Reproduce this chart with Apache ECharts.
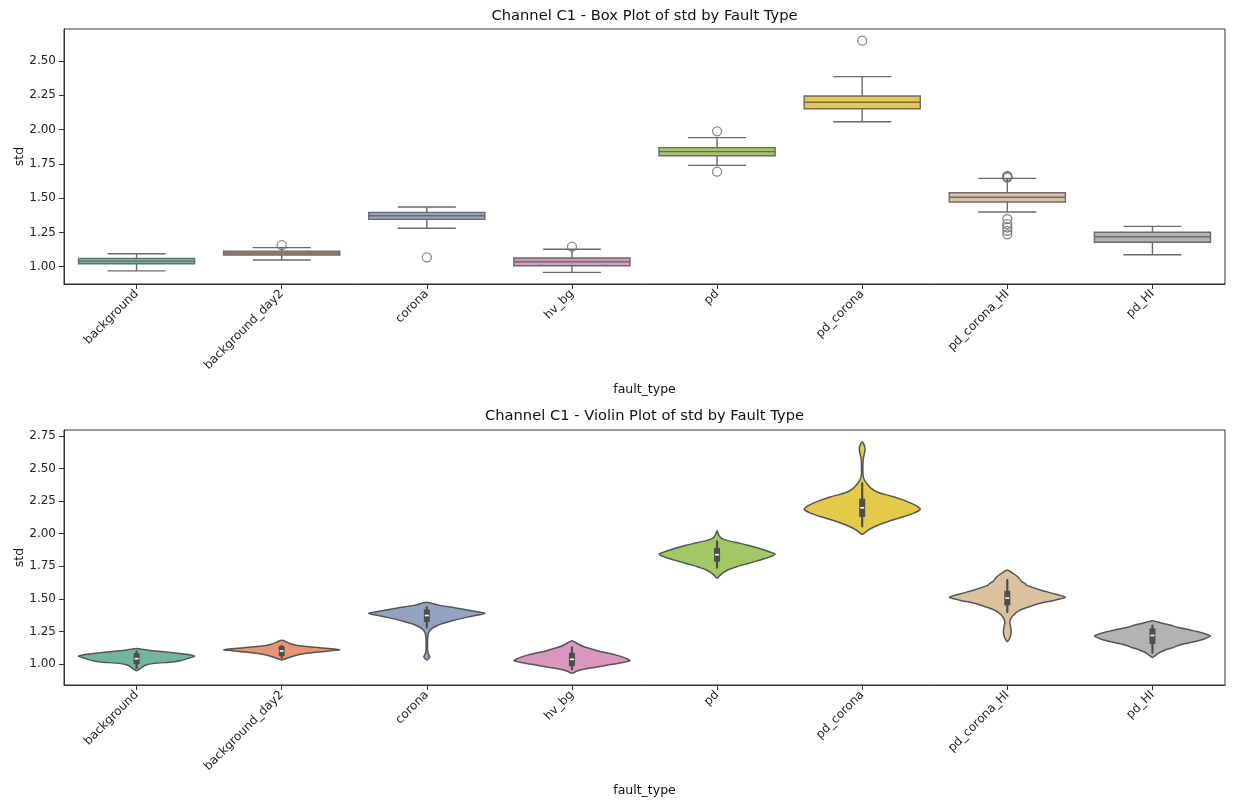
<!DOCTYPE html>
<html><head><meta charset="utf-8">
<script src="https://cdn.jsdelivr.net/npm/echarts@6/dist/echarts.min.js"></script>
<style>html,body{margin:0;padding:0;background:#fff}#c{width:1235px;height:803px}</style>
</head><body><div id="c"></div>
<script>
// ---------------- data ----------------
const categories = ['background','background_day2','corona','hv_bg','pd','pd_corona','pd_corona_HI','pd_HI'];
const whiskerLow  = [0.970, 1.049, 1.280, 0.959, 1.739, 2.057, 1.399, 1.087];
const quart1      = [1.022, 1.085, 1.345, 1.007, 1.809, 2.152, 1.472, 1.178];
const medians     = [1.041, 1.100, 1.372, 1.036, 1.839, 2.199, 1.506, 1.219];
const quart3      = [1.061, 1.114, 1.396, 1.063, 1.868, 2.245, 1.539, 1.251];
const whiskerHigh = [1.095, 1.139, 1.435, 1.127, 1.941, 2.386, 1.644, 1.294];
// outliers: [category index, value]
const outliers = [[1,1.158],[2,1.068],[3,1.146],[4,1.987],[4,1.693],[5,2.648],
  [6,1.650],[6,1.656],[6,1.662],[6,1.348],[6,1.311],[6,1.287],[6,1.262],[6,1.236]];
// violin density profiles: [value, relative half-width]
const violinBackground = [[0.949,0],[0.97,0.08],[0.99,0.15],[1.005,0.3],[1.015,0.62],[1.025,0.75],[1.045,0.9],[1.061,1],[1.075,0.85],[1.09,0.55],[1.105,0.2],[1.12,0]];
const violinBackgroundDay2 = [[1.031,0],[1.045,0.1],[1.064,0.22],[1.08,0.4],[1.095,0.7],[1.11,1],[1.125,0.65],[1.14,0.3],[1.155,0.15],[1.17,0.08],[1.182,0]];
const violinCorona = [[1.031,0],[1.045,0.04],[1.06,0.05],[1.075,0.03],[1.10,0.015],[1.15,0.012],[1.20,0.015],[1.24,0.03],[1.27,0.08],[1.30,0.2],[1.33,0.42],[1.36,0.7],[1.389,1],[1.41,0.75],[1.43,0.5],[1.45,0.22],[1.474,0]];
const violinHvBg = [[0.929,0],[0.945,0.08],[0.96,0.2],[0.975,0.4],[0.992,0.62],[1.01,0.85],[1.025,1],[1.045,0.92],[1.07,0.75],[1.09,0.55],[1.11,0.38],[1.13,0.22],[1.15,0.12],[1.179,0]];
const violinPd = [[1.658,0],[1.68,0.05],[1.70,0.1],[1.725,0.2],[1.747,0.34],[1.77,0.52],[1.798,0.74],[1.82,0.9],[1.844,1],[1.865,0.88],[1.888,0.72],[1.91,0.55],[1.926,0.4],[1.945,0.2],[1.965,0.08],[1.99,0.03],[2.023,0]];
const violinPdCorona = [[1.995,0],[2.028,0.1],[2.055,0.22],[2.08,0.36],[2.105,0.52],[2.13,0.71],[2.16,0.9],[2.187,1],[2.21,0.95],[2.233,0.85],[2.26,0.7],[2.284,0.54],[2.30,0.4],[2.322,0.25],[2.35,0.15],[2.38,0.09],[2.41,0.04],[2.45,0.015],[2.52,0.012],[2.58,0.02],[2.62,0.04],[2.65,0.05],[2.68,0.035],[2.706,0]];
const violinPdCoronaHI = [[1.171,0],[1.19,0.03],[1.215,0.055],[1.24,0.065],[1.265,0.065],[1.29,0.055],[1.315,0.045],[1.34,0.05],[1.363,0.08],[1.39,0.14],[1.414,0.22],[1.44,0.38],[1.466,0.57],[1.49,0.82],[1.512,1],[1.54,0.8],[1.568,0.57],[1.59,0.42],[1.606,0.33],[1.62,0.3],[1.632,0.25],[1.67,0.18],[1.696,0.1],[1.721,0]];
const violinPdHI = [[1.051,0],[1.065,0.05],[1.082,0.1],[1.10,0.18],[1.113,0.25],[1.125,0.35],[1.138,0.42],[1.155,0.55],[1.171,0.72],[1.19,0.88],[1.215,1],[1.24,0.85],[1.261,0.65],[1.28,0.45],[1.299,0.3],[1.315,0.15],[1.332,0]];
const violinProfiles = [violinBackground, violinBackgroundDay2, violinCorona, violinHvBg, violinPd, violinPdCorona, violinPdCoronaHI, violinPdHI];
const ticksTop = [1.00, 1.25, 1.50, 1.75, 2.00, 2.25, 2.50];
const ticksBottom = [1.00, 1.25, 1.50, 1.75, 2.00, 2.25, 2.50, 2.75];
const titleTop = 'Channel C1 - Box Plot of std by Fault Type';
const titleBottom = 'Channel C1 - Violin Plot of std by Fault Type';
const xName = 'fault_type', yName = 'std';

// ---------------- style ----------------
const set2 = ['#66c2a5','#fc8d62','#8da0cb','#e78ac3','#a6d854','#ffd92f','#e5c494','#b3b3b3'];
function rgb2hls(r,g,b){const mx=Math.max(r,g,b),mn=Math.min(r,g,b);const l=(mx+mn)/2;if(mx===mn)return[0,l,0];const d=mx-mn;const s=l<=0.5?d/(mx+mn):d/(2-mx-mn);let h;if(mx===r)h=((g-b)/d)%6;else if(mx===g)h=(b-r)/d+2;else h=(r-g)/d+4;h/=6;if(h<0)h+=1;return[h,l,s];}
function hls2rgb(h,l,s){if(s===0)return[l,l,l];const q=l<0.5?l*(1+s):l+s-l*s;const p=2*l-q;const f=t=>{if(t<0)t+=1;if(t>1)t-=1;if(t<1/6)return p+(q-p)*6*t;if(t<1/2)return q;if(t<2/3)return p+(q-p)*(2/3-t)*6;return p;};return[f(h+1/3),f(h),f(h-1/3)];}
function desat(hex,p){const r=parseInt(hex.slice(1,3),16)/255,g=parseInt(hex.slice(3,5),16)/255,b=parseInt(hex.slice(5,7),16)/255;const [h,l,s]=rgb2hls(r,g,b);const c=hls2rgb(h,l,s*p);return 'rgb('+c.map(v=>Math.round(v*255)).join(',')+')';}
const colors = set2.map(c=>desat(c,0.75));
const boxLine = '#6a6a6a';
const violinLine = '#555555';
const innerColor = '#4d4d4d';
const FONT = 'DejaVu Sans';

const grids = [
  {left:64, right:10, top:29, height:255, show:true, borderColor:'#333', borderWidth:1, containLabel:false, outerBoundsMode:'none'},
  {left:64, right:10, top:430, height:255, show:true, borderColor:'#333', borderWidth:1, containLabel:false, outerBoundsMode:'none'}
];
function xAxisFor(gi){
  return {type:'category', gridIndex:gi, data:categories, boundaryGap:true,
    name:xName, nameLocation:'middle', nameGap:99,
    nameTextStyle:{fontFamily:FONT, fontSize:12.5, color:'#111'},
    axisLine:{show:true, lineStyle:{color:'#333', width:1}},
    axisTick:{show:true, alignWithLabel:true, length:5, lineStyle:{color:'#333'}},
    axisLabel:{rotate:45, fontFamily:FONT, fontSize:12, color:'#222', margin:8, interval:0},
    splitLine:{show:false}};
}
function yAxisFor(gi,min,max,ticks){
  return {type:'value', gridIndex:gi, min:min, max:max,
    name:yName, nameLocation:'middle', nameGap:44, nameRotate:90, nameMoveOverlap:false,
    nameTextStyle:{fontFamily:FONT, fontSize:12.5, color:'#111', verticalAlign:'middle'},
    axisLine:{show:true, lineStyle:{color:'#333', width:1}},
    axisTick:{show:true, length:5, lineStyle:{color:'#333'}, customValues:ticks},
    axisLabel:{fontFamily:FONT, fontSize:12, color:'#222', margin:8, customValues:ticks, formatter:v=>v.toFixed(2)},
    splitLine:{show:false}};
}

function renderBox(params, api){
  const i = api.value(0);
  const pLo=api.coord([i,api.value(1)]), pQ1=api.coord([i,api.value(2)]), pMd=api.coord([i,api.value(3)]),
        pQ3=api.coord([i,api.value(4)]), pHi=api.coord([i,api.value(5)]);
  const band = api.size([1,0])[0];
  const hw = band*0.4, cw = hw*0.5, x = pLo[0];
  const st = {stroke:boxLine, lineWidth:1.4, fill:null};
  return {type:'group', children:[
    {type:'line', shape:{x1:x,y1:pQ1[1],x2:x,y2:pLo[1]}, style:st},
    {type:'line', shape:{x1:x,y1:pQ3[1],x2:x,y2:pHi[1]}, style:st},
    {type:'line', shape:{x1:x-cw,y1:pLo[1],x2:x+cw,y2:pLo[1]}, style:st},
    {type:'line', shape:{x1:x-cw,y1:pHi[1],x2:x+cw,y2:pHi[1]}, style:st},
    {type:'rect', shape:{x:x-hw, y:pQ3[1], width:2*hw, height:pQ1[1]-pQ3[1]}, style:{fill:colors[params.dataIndex], stroke:boxLine, lineWidth:1.4}},
    {type:'line', shape:{x1:x-hw,y1:pMd[1],x2:x+hw,y2:pMd[1]}, style:st}
  ]};
}
function renderViolin(params, api){
  const idx = params.dataIndex;
  const i = api.value(0);
  const prof = violinProfiles[idx];
  const band = api.size([1,0])[0];
  const hw = band*0.4;
  const pts = [];
  for (let k=0;k<prof.length;k++){const p=api.coord([i,prof[k][0]]); pts.push([p[0]+prof[k][1]*hw, p[1]]);}
  for (let k=prof.length-2;k>=1;k--){const p=api.coord([i,prof[k][0]]); pts.push([p[0]-prof[k][1]*hw, p[1]]);}
  const pLo=api.coord([i,whiskerLow[idx]]), pQ1=api.coord([i,quart1[idx]]), pMd=api.coord([i,medians[idx]]),
        pQ3=api.coord([i,quart3[idx]]), pHi=api.coord([i,whiskerHigh[idx]]);
  const x = pLo[0];
  return {type:'group', children:[
    {type:'polygon', shape:{points:pts, smooth:0.2}, style:{fill:colors[idx], stroke:violinLine, lineWidth:1.5}},
    {type:'line', shape:{x1:x,y1:pLo[1],x2:x,y2:pHi[1]}, style:{stroke:innerColor, lineWidth:2.2, lineCap:'round'}},
    {type:'line', shape:{x1:x,y1:pQ3[1],x2:x,y2:pQ1[1]}, style:{stroke:innerColor, lineWidth:6, lineCap:'square'}},
    {type:'rect', shape:{x:x-2, y:pMd[1]-0.8, width:4, height:1.6}, style:{fill:'#ffffff'}}
  ]};
}

const boxData = categories.map((c,i)=>[i, whiskerLow[i], quart1[i], medians[i], quart3[i], whiskerHigh[i]]);
const violinData = categories.map((c,i)=>[i, medians[i]]);

const option = {
  backgroundColor:'#fff',
  animation:false,
  grid: grids,
  xAxis: [xAxisFor(0), xAxisFor(1)],
  yAxis: [yAxisFor(0,0.874,2.733,ticksTop), yAxisFor(1,0.839,2.796,ticksBottom)],
  graphic: [
    {type:'text', x:644.5, y:16, style:{text:titleTop, font:'14.7px "DejaVu Sans"', fill:'#111', textAlign:'center', textVerticalAlign:'middle'}},
    {type:'text', x:644.5, y:416, style:{text:titleBottom, font:'14.7px "DejaVu Sans"', fill:'#111', textAlign:'center', textVerticalAlign:'middle'}}
  ],
  series: [
    {type:'custom', xAxisIndex:0, yAxisIndex:0, renderItem:renderBox, data:boxData, encode:{x:0, y:[1,2,3,4,5]}, clip:false, z:2},
    {type:'scatter', xAxisIndex:0, yAxisIndex:0, data:outliers, symbol:'circle', symbolSize:9,
      itemStyle:{color:'rgba(255,255,255,0)', borderColor:boxLine, borderWidth:1.3}, z:3},
    {type:'custom', xAxisIndex:1, yAxisIndex:1, renderItem:renderViolin, data:violinData, encode:{x:0, y:1}, clip:false, z:2}
  ]
};
const chart = echarts.init(document.getElementById('c'), null, {renderer:'canvas'});
chart.setOption(option);
</script></body></html>
